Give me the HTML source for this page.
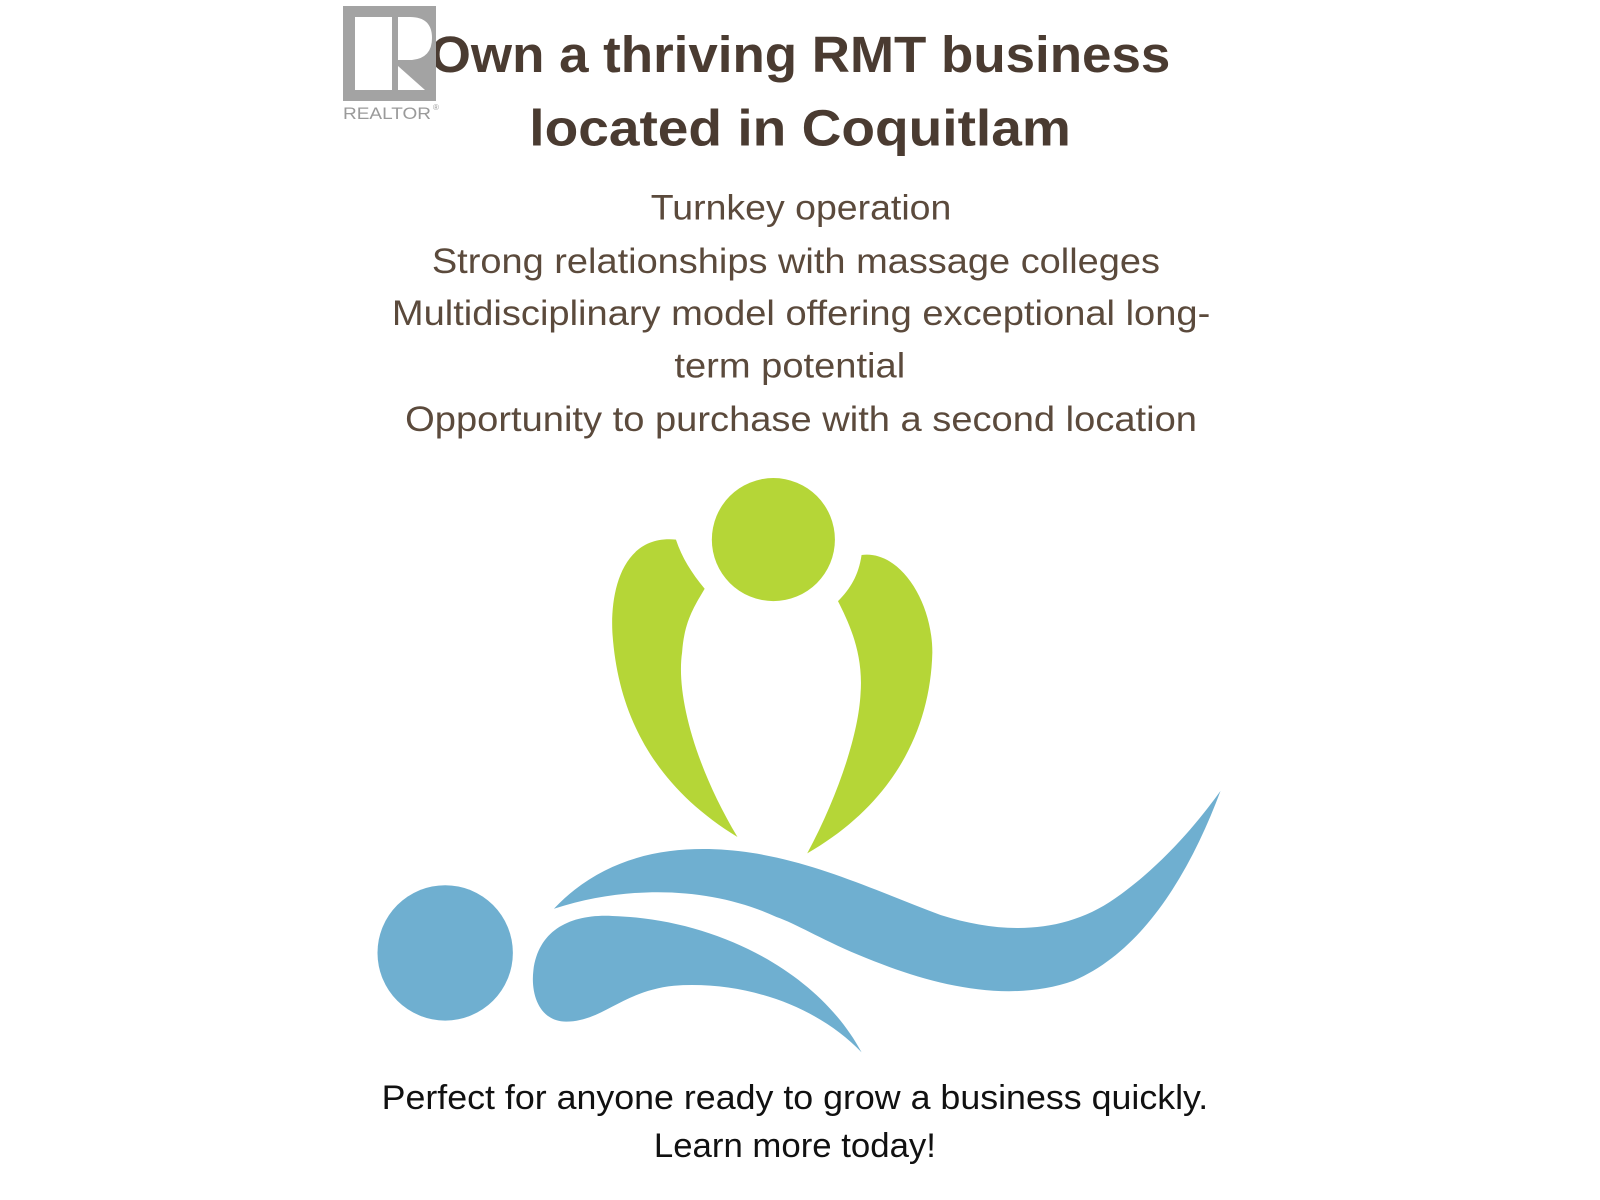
<!DOCTYPE html>
<html><head><meta charset="utf-8"><style>
html,body{margin:0;padding:0;background:#fff;width:1600px;height:1200px;overflow:hidden}
svg{display:block}
</style></head><body>
<svg width="1600" height="1200" viewBox="0 0 1600 1200" xmlns="http://www.w3.org/2000/svg">
<g transform="translate(-3,-4) scale(1.0256)">
  <g font-family="Liberation Sans, sans-serif" text-anchor="middle">
    <text x="783" y="74" font-size="50" font-weight="bold" fill="#4a3b31" textLength="722" lengthAdjust="spacingAndGlyphs">Own a thriving RMT business</text>
    <text x="783" y="146" font-size="50" font-weight="bold" fill="#4a3b31" textLength="528" lengthAdjust="spacingAndGlyphs">located in Coquitlam</text>
    <g font-size="34" fill="#5b4a3c">
      <text x="784" y="218" textLength="293" lengthAdjust="spacingAndGlyphs">Turnkey operation</text>
      <text x="779" y="270" textLength="710" lengthAdjust="spacingAndGlyphs">Strong relationships with massage colleges</text>
      <text x="784" y="321" textLength="798" lengthAdjust="spacingAndGlyphs">Multidisciplinary model offering exceptional long-</text>
      <text x="773" y="372" textLength="225" lengthAdjust="spacingAndGlyphs">term potential</text>
      <text x="784" y="424" textLength="772" lengthAdjust="spacingAndGlyphs">Opportunity to purchase with a second location</text>
    </g>
    <g font-size="33" fill="#111">
      <text x="778" y="1085" textLength="806" lengthAdjust="spacingAndGlyphs">Perfect for anyone ready to grow a business quickly.</text>
      <text x="778" y="1132" textLength="275" lengthAdjust="spacingAndGlyphs">Learn more today!</text>
    </g>
  </g>
  <g fill="#b5d637">
    <circle cx="757" cy="530" r="60"/>
    <path d="M662,530 C610,525 598,580 600,620 C605,700 640,770 722,820 C680,750 662,680 668,640 C670,610 680,595 690,578 C677,562 668,548 662,530 Z"/>
    <path d="M843,545 C880,540 912,590 912,640 C910,720 870,790 790,836 C820,780 840,720 842,680 C845,640 830,610 820,590 C832,578 840,565 843,545 Z"/>
  </g>
  <g fill="#6fafd0">
    <circle cx="437" cy="933" r="66"/>
    <path d="M543,890 C590,840 650,830 700,832 C780,835 850,870 920,896 C980,915 1040,915 1090,880 C1140,845 1175,800 1193,775 C1165,850 1120,930 1050,960 C980,985 900,960 840,935 C800,918 780,905 760,898 C700,870 620,865 543,890 Z"/>
    <path d="M843,1030 C800,985 730,960 660,965 C610,970 590,1000 555,1000 C530,1000 520,975 523,950 C528,910 560,895 600,897 C700,900 800,950 843,1030 Z"/>
  </g>
</g>
<g>
  <rect x="343" y="6" width="93" height="95" fill="#a3a3a3"/>
  <rect x="355" y="17" width="37" height="73" fill="#fff"/>
  <path d="M398,17 L410,17 Q432,17 432,38 Q432,58 412,60 L398,60 Z" fill="#fff"/>
  <path d="M398,66 L398,90 L425,90 Z" fill="#fff"/>
  <text x="343" y="119" font-family="Liberation Sans, sans-serif" font-size="17" fill="#9a9a9a" textLength="88" lengthAdjust="spacingAndGlyphs">REALTOR</text>
  <text x="433" y="110" font-family="Liberation Sans, sans-serif" font-size="8" fill="#9a9a9a">®</text>
</g>
</svg>
</body></html>
